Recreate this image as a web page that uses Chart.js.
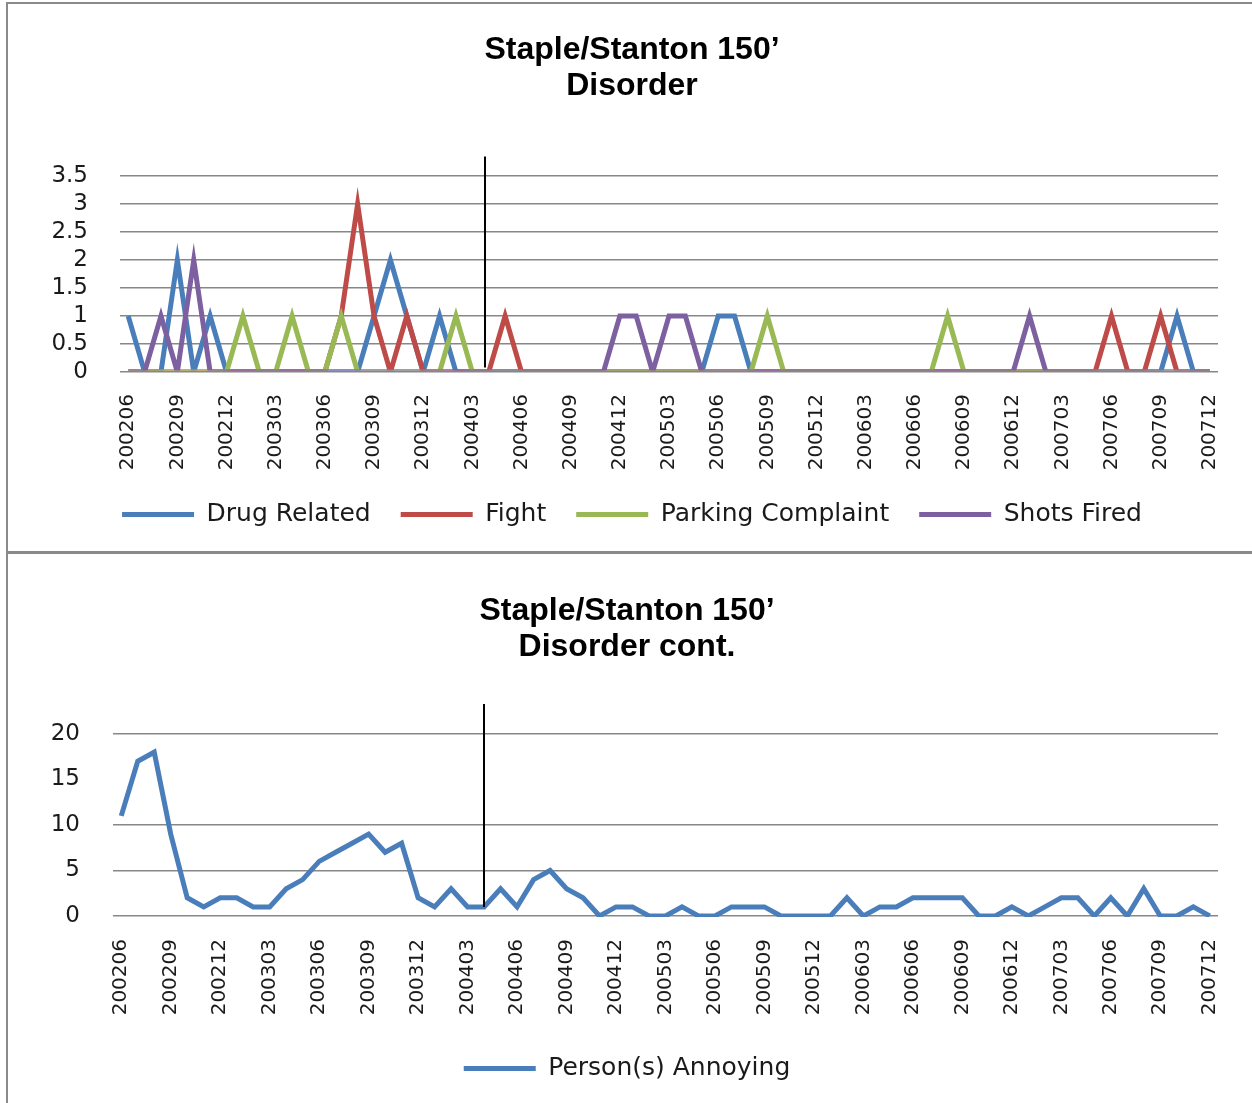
<!DOCTYPE html>
<html>
<head>
<meta charset="utf-8">
<title>Staple/Stanton 150' Disorder</title>
<script src="https://cdn.jsdelivr.net/npm/chart.js@4.4.0/dist/chart.umd.min.js"></script>
<style>
  html, body { margin: 0; padding: 0; background: #fff; width: 1252px; height: 1103px; overflow: hidden; }
  .panel { position: absolute; left: 6px; width: 1244px; border-left: 2px solid #8a8a8a; }
  #panel-top { top: 2px; height: 547px; border-top: 2px solid #8a8a8a; border-bottom: 3px solid #8a8a8a; }
  #panel-bottom { top: 554px; height: 549px; }
  canvas { display: block; }
</style>
</head>
<body>
<div class="panel" id="panel-top"><canvas id="disorder-chart" width="1244" height="547"></canvas></div>
<div class="panel" id="panel-bottom"><canvas id="annoying-chart" width="1244" height="549"></canvas></div>

<script>
// months 200206 .. 200712, one label per month
const months = [
  "200206", "200207", "200208", "200209", "200210", "200211", "200212",
  "200301", "200302", "200303", "200304", "200305", "200306", "200307", "200308", "200309", "200310", "200311", "200312",
  "200401", "200402", "200403", "200404", "200405", "200406", "200407", "200408", "200409", "200410", "200411", "200412",
  "200501", "200502", "200503", "200504", "200505", "200506", "200507", "200508", "200509", "200510", "200511", "200512",
  "200601", "200602", "200603", "200604", "200605", "200606", "200607", "200608", "200609", "200610", "200611", "200612",
  "200701", "200702", "200703", "200704", "200705", "200706", "200707", "200708", "200709", "200710", "200711", "200712",
];

const drugRelated = [
  1, 0, 0, 2, 0, 1, 0,
  0, 0, 0, 0, 0, 0, 0, 0, 1, 2, 1, 0,
  1, 0, 0, 0, 0, 0, 0, 0, 0, 0, 0, 0,
  0, 0, 0, 0, 0, 1, 1, 0, 0, 0, 0, 0,
  0, 0, 0, 0, 0, 0, 0, 0, 0, 0, 0, 0,
  0, 0, 0, 0, 0, 0, 0, 0, 0, 1, 0, 0,
];
const fight = [
  0, 0, 0, 0, 0, 0, 0,
  0, 0, 0, 0, 0, 0, 1, 3, 1, 0, 1, 0,
  0, 0, 0, 0, 1, 0, 0, 0, 0, 0, 0, 0,
  0, 0, 0, 0, 0, 0, 0, 0, 0, 0, 0, 0,
  0, 0, 0, 0, 0, 0, 0, 0, 0, 0, 0, 0,
  0, 0, 0, 0, 0, 1, 0, 0, 1, 0, 0, 0,
];
const parkingComplaint = [
  0, 0, 0, 0, 0, 0, 0,
  1, 0, 0, 1, 0, 0, 1, 0, 0, 0, 0, 0,
  0, 1, 0, 0, 0, 0, 0, 0, 0, 0, 0, 0,
  0, 0, 0, 0, 0, 0, 0, 0, 1, 0, 0, 0,
  0, 0, 0, 0, 0, 0, 0, 1, 0, 0, 0, 0,
  0, 0, 0, 0, 0, 0, 0, 0, 0, 0, 0, 0,
];
const shotsFired = [
  0, 0, 1, 0, 2, 0, 0,
  0, 0, 0, 0, 0, 0, 0, 0, 0, 0, 0, 0,
  0, 0, 0, 0, 0, 0, 0, 0, 0, 0, 0, 1,
  1, 0, 1, 1, 0, 0, 0, 0, 0, 0, 0, 0,
  0, 0, 0, 0, 0, 0, 0, 0, 0, 0, 0, 0,
  1, 0, 0, 0, 0, 0, 0, 0, 0, 0, 0, 0,
];
const personsAnnoying = [
  11, 17, 18, 9, 2, 1, 2,
  2, 1, 1, 3, 4, 6, 7, 8, 9, 7, 8, 2,
  1, 3, 1, 1, 3, 1, 4, 5, 3, 2, 0, 1,
  1, 0, 0, 1, 0, 0, 1, 1, 1, 0, 0, 0,
  0, 2, 0, 1, 1, 2, 2, 2, 2, 0, 0, 1,
  0, 1, 2, 2, 0, 2, 0, 3, 0, 0, 1, 0,
];

const topTicks = { max: 3.5, step: 0.5 };
const bottomTicks = { max: 20, step: 5 };

const colors = {
  blue: "#4a7ebb",
  red: "#be4b48",
  green: "#98b954",
  purple: "#7d60a0",
  grid: "#878787",
  text: "#1a1a1a",
};

// the hand drawn divider line (sits near 200404 on both charts)
const dividerLine = {
  id: "dividerLine",
  afterDatasetsDraw(chart, args, opts) {
    const { ctx, scales } = chart;
    const px = Math.round(scales.x.getPixelForValue(opts.index));
    ctx.save();
    ctx.strokeStyle = "#000";
    ctx.lineWidth = 2;
    ctx.beginPath();
    ctx.moveTo(px, scales.y.getPixelForValue(opts.from));
    ctx.lineTo(px, scales.y.getPixelForValue(opts.to));
    ctx.stroke();
    ctx.restore();
  },
};

function makeDataset(label, data, color, order, clipBottom) {
  return {
    label,
    data,
    borderColor: color,
    backgroundColor: color,
    borderWidth: 5,
    pointRadius: 0,
    pointHoverRadius: 0,
    tension: 0,
    clip: { left: 0, top: 0, right: 0, bottom: clipBottom },
    order,
  };
}

function makeOptions(layout) {
  return {
    responsive: false,
    animation: false,
    events: [],
    layout: { padding: { left: layout.padLeft, right: 34, top: 0, bottom: layout.padBottom } },
    plugins: {
      tooltip: { enabled: false },
      title: {
        display: true,
        text: layout.title,
        color: "#000",
        font: { family: "Liberation Sans, Arial, sans-serif", size: 32, weight: "bold", lineHeight: "36px" },
        padding: { top: layout.titleTop, bottom: layout.titleBottom },
      },
      legend: {
        position: "bottom",
        labels: {
          usePointStyle: true,
          pointStyle: "line",
          pointStyleWidth: 72,
          padding: layout.legendPad,
          color: colors.text,
          font: { family: "DejaVu Sans", size: 25 },
          sort: (a, b) => a.datasetIndex - b.datasetIndex,
        },
      },
      dividerLine: layout.divider,
    },
    scales: {
      x: {
        offset: true,
        grid: { display: false },
        border: { display: false },
        afterFit: (scale) => { scale.height = layout.xHeight; },
        ticks: {
          autoSkip: false,
          minRotation: 90,
          maxRotation: 90,
          padding: layout.xPad,
          color: colors.text,
          font: { family: "DejaVu Sans", size: 20 },
          callback: function (value, index) {
            return index % 3 === 0 ? this.getLabelForValue(value) : "";
          },
        },
      },
      y: {
        min: 0,
        max: layout.ticks.max,
        border: { display: false },
        afterFit: (scale) => { scale.width = layout.yWidth; },
        grid: {
          drawTicks: false,
          lineWidth: 1.5,
          color: (c) => (layout.hideGrid.includes(c.tick && c.tick.value) ? "rgba(0,0,0,0)" : colors.grid),
        },
        ticks: {
          stepSize: layout.ticks.step,
          autoSkip: false,
          padding: layout.yPad,
          color: colors.text,
          font: { family: "DejaVu Sans", size: 23 },
          callback: (value) => String(value),
        },
      },
    },
  };
}

new Chart(document.getElementById("disorder-chart"), {
  type: "line",
  data: {
    labels: months,
    datasets: [
      makeDataset("Drug Related", drugRelated, colors.blue, 4, -1.5),
      makeDataset("Fight", fight, colors.red, 3, -1.5),
      makeDataset("Parking Complaint", parkingComplaint, colors.green, 2, -1.5),
      makeDataset("Shots Fired", shotsFired, colors.purple, 1, -1.5),
    ],
  },
  options: makeOptions({
    title: ["Staple/Stanton 150\u2019", "Disorder"],
    titleTop: 28,
    titleBottom: 72,
    padLeft: 38,
    padBottom: 14,
    legendPad: 30,
    xHeight: 100,
    xPad: 14,
    yWidth: 74,
    yPad: 32,
    ticks: topTicks,
    hideGrid: [],
    divider: { index: 21.8, from: 0.08, to: 3.85 },
  }),
  plugins: [dividerLine],
});

new Chart(document.getElementById("annoying-chart"), {
  type: "line",
  data: {
    labels: months,
    datasets: [makeDataset("Person(s) Annoying", personsAnnoying, colors.blue, 1, 1)],
  },
  options: makeOptions({
    title: ["Staple/Stanton 150\u2019", "Disorder cont."],
    titleTop: 39,
    titleBottom: 69,
    padLeft: 28,
    padBottom: 12,
    legendPad: 40,
    xHeight: 100,
    xPad: 15,
    yWidth: 77,
    yPad: 33,
    ticks: bottomTicks,
    hideGrid: [15],
    divider: { index: 22, from: 1, to: 23.3 },
  }),
  plugins: [dividerLine],
});
</script>
</body>
</html>
